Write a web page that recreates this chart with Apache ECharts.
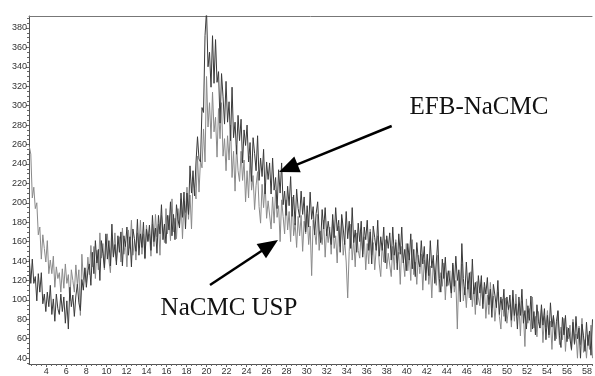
<!DOCTYPE html>
<html>
<head>
<meta charset="utf-8">
<script src="https://cdn.jsdelivr.net/npm/echarts@6.0.0/dist/echarts.min.js"></script>
<style>html,body{margin:0;padding:0;background:#fff;}#c{width:595px;height:376px;}</style>
</head>
<body>
<div id="c"></div>
<script>
// 2-theta grid: first angle and step (degrees)
const xStart = 2.3;
const xStep = 0.15;

// EFB-NaCMC intensities (counts)
const efbValues = [
142,117,142,117,124,99,127,108,128,96,106,88,108,93,115,85,101,78,106,91,
85,106,88,103,76,99,70,113,93,105,83,104,116,97,89,121,110,133,113,130,
137,115,149,127,161,138,152,120,161,148,133,168,142,161,135,178,144,157,136,166,
149,170,135,166,155,175,146,165,134,173,163,150,183,146,168,154,180,143,173,160,
177,151,187,160,174,148,187,168,198,162,178,158,187,172,201,166,188,162,198,183,
174,210,185,211,173,210,188,238,210,233,207,242,268,245,242,298,293,372,398,340,
355,319,372,323,368,324,335,282,333,309,281,325,283,304,264,319,267,283,250,290,
264,286,241,275,259,280,242,262,222,267,251,233,269,223,246,227,255,209,242,224,
241,209,246,213,226,194,234,210,241,198,212,187,217,197,227,186,208,177,214,194,
185,212,188,206,170,197,175,211,183,196,167,189,201,172,159,193,173,195,166,181,
181,157,188,164,195,171,182,149,188,174,157,191,163,181,153,195,159,172,149,179,
160,181,144,175,162,182,151,170,137,176,164,151,182,145,165,151,175,138,166,153,
169,141,175,146,159,131,168,147,175,138,152,130,158,141,168,132,152,124,159,141,
134,161,137,155,120,147,125,161,133,146,117,139,162,122,108,142,122,144,114,130,
132,107,138,114,145,120,131,98,158,122,105,139,111,128,100,142,106,118,95,125,
107,125,91,118,106,123,95,111,82,116,105,92,120,85,103,90,111,78,103,90,
105,79,110,84,96,70,103,84,111,76,89,70,94,79,104,70,88,64,95,78,
71,95,74,91,59,84,64,97,72,84,58,78,89,63,51,82,64,84,57,71,
72,49,77,55,83,60,71,40,75,63,47,77,53,68,43,80
];

// NaCMC USP intensities (counts)
const uspValues = [
258,250,205,216,194,200,167,175,142,167,153,139,161,127,141,127,145,113,134,122,
128,108,132,112,137,117,126,99,131,120,108,136,115,131,84,147,121,133,118,144,
126,156,134,155,122,151,131,169,143,158,131,154,168,141,128,164,145,169,140,157,
165,139,174,147,160,134,172,153,182,146,161,141,169,154,182,147,168,142,177,161,
168,145,178,155,188,165,178,146,187,174,159,194,168,187,161,204,170,184,163,194,
177,204,163,202,190,216,183,208,173,224,215,204,248,211,244,236,276,242,330,278,
303,266,314,273,288,247,297,266,303,248,266,233,269,244,280,226,253,212,259,233,
222,253,223,244,201,233,205,248,213,228,193,218,232,196,179,219,195,220,184,202,
201,173,206,179,213,185,197,160,203,186,168,203,172,191,160,206,166,179,154,186,
166,187,150,181,168,188,157,176,125,182,170,157,188,151,171,157,182,144,173,159,
175,147,182,153,166,138,176,155,184,146,161,139,102,150,178,141,162,134,169,151,
143,170,147,165,131,158,137,173,146,159,131,153,166,137,124,158,139,162,132,148,
148,124,155,131,162,138,149,116,155,141,124,158,130,148,120,162,126,139,116,146,
127,147,110,141,128,147,116,135,102,140,128,115,146,108,128,114,138,100,128,115,
130,102,136,108,120,70,129,109,137,99,113,92,119,102,129,93,113,85,119,102,
94,118,96,113,81,105,85,118,92,104,78,97,108,83,70,101,83,102,76,90,
95,72,101,78,106,84,94,63,99,86,52,101,76,91,67,103,71,83,62,88,
71,90,56,83,72,89,61,78,49,83,73,60,88,54,72,59,81,47,72,60,
74,48,80,54,65,40,73,54,81,46,59,40,64,49,74,40
];

// tick labels
const xTickLabels = [4,6,8,10,12,14,16,18,20,22,24,26,28,30,32,34,36,38,40,42,44,46,48,50,52,54,56,58];
const yTickLabels = [40,60,80,100,120,140,160,180,200,220,240,260,280,300,320,340,360,380];

// annotations
const seriesNames = ['EFB-NaCMC', 'NaCMC USP'];

const X_MIN = 2.27, X_MAX = 58.5, Y_MIN = 34, Y_MAX = 392.3;

const xMinor = []; for (let v = 2.5; v <= 58.5; v += 0.5) xMinor.push(+v.toFixed(1));
const yMinor = []; for (let v = 35; v <= 390; v += 5) yMinor.push(v);

function toPairs(arr) { return arr.map((v, i) => [+(xStart + i * xStep).toFixed(2), v]); }

function arrow(x1, y1, x2, y2, headLen, headHalf, w) {
  const dx = x2 - x1, dy = y2 - y1, L = Math.hypot(dx, dy);
  const ux = dx / L, uy = dy / L, px = -uy, py = ux;
  const bx = x2 - ux * headLen, by = y2 - uy * headLen;
  return [
    { type: 'line', shape: { x1: x1, y1: y1, x2: bx + ux * 2, y2: by + uy * 2 }, style: { stroke: '#000', lineWidth: w }, z: 100 },
    { type: 'polygon', shape: { points: [[x2, y2], [bx + px * headHalf, by + py * headHalf], [bx - px * headHalf, by - py * headHalf]] }, style: { fill: '#000' }, z: 100 }
  ];
}

const chart = echarts.init(document.getElementById('c'), null, { renderer: 'canvas' });
const labelFont = { fontSize: 9, color: '#333', fontFamily: 'Liberation Sans, Arial, sans-serif' };

chart.setOption({
  animation: false,
  backgroundColor: '#fff',
  grid: { left: 29, right: 0, top: 16, bottom: 11, show: false },
  xAxis: [
    { type: 'value', min: X_MIN, max: X_MAX, position: 'bottom',
      axisLine: { show: true, lineStyle: { color: '#555', width: 1 } },
      axisTick: { show: true, customValues: xTickLabels, length: 3, lineStyle: { color: '#555' } },
      axisLabel: Object.assign({ customValues: xTickLabels, margin: 3 }, labelFont),
      splitLine: { show: false } },
    { type: 'value', min: X_MIN, max: X_MAX, position: 'bottom',
      axisLine: { show: false },
      axisTick: { show: true, customValues: xMinor, length: 2, lineStyle: { color: '#666' } },
      axisLabel: { show: false }, splitLine: { show: false } },
    { type: 'value', min: X_MIN, max: X_MAX, position: 'top',
      axisLine: { show: true, lineStyle: { color: '#777', width: 1 } },
      axisTick: { show: false }, axisLabel: { show: false }, splitLine: { show: false } }
  ],
  yAxis: [
    { type: 'value', min: Y_MIN, max: Y_MAX, position: 'left',
      axisLine: { show: true, lineStyle: { color: '#555', width: 1 } },
      axisTick: { show: true, customValues: yTickLabels, length: 3, lineStyle: { color: '#555' } },
      axisLabel: Object.assign({ customValues: yTickLabels, margin: 2 }, labelFont),
      splitLine: { show: false } },
    { type: 'value', min: Y_MIN, max: Y_MAX, position: 'left',
      axisLine: { show: false },
      axisTick: { show: true, customValues: yMinor, length: 2, lineStyle: { color: '#666' } },
      axisLabel: { show: false }, splitLine: { show: false } }
  ],
  series: [
    { name: seriesNames[1], type: 'line', xAxisIndex: 0, yAxisIndex: 0, data: toPairs(uspValues),
      showSymbol: false, symbol: 'none', clip: true,
      lineStyle: { color: '#8a8a8a', width: 1 }, z: 2 },
    { name: seriesNames[0], type: 'line', xAxisIndex: 0, yAxisIndex: 0, data: toPairs(efbValues),
      showSymbol: false, symbol: 'none', clip: true,
      lineStyle: { color: '#3a3a3a', width: 1 }, z: 3 }
  ],
  graphic: [
    { type: 'text', x: 479, y: 107, style: { text: seriesNames[0], font: '25px "Liberation Serif", "Times New Roman", serif', fill: '#111', textAlign: 'center', textVerticalAlign: 'middle' }, z: 100 },
    { type: 'text', x: 229, y: 308, style: { text: seriesNames[1], font: '25px "Liberation Serif", "Times New Roman", serif', fill: '#111', textAlign: 'center', textVerticalAlign: 'middle' }, z: 100 }
  ].concat(arrow(391.7, 126, 279, 172, 20, 8.5, 2.5)).concat(arrow(210, 285, 278, 240, 20, 8.5, 2.5))
});
</script>
</body>
</html>
